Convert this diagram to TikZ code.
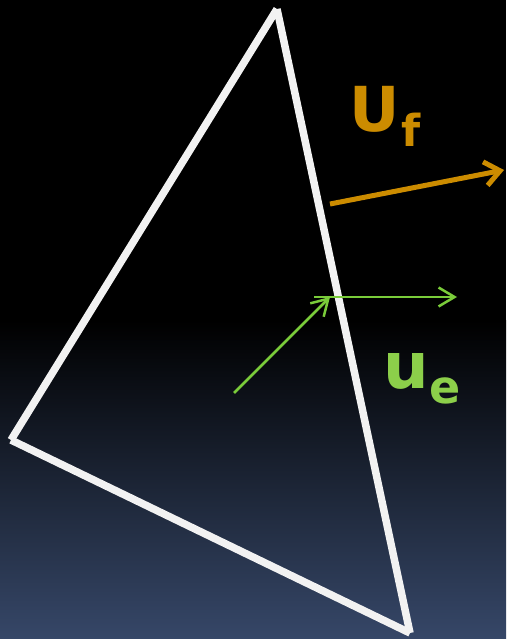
\documentclass[tikz,border=0pt]{standalone}
\usepackage{fontspec}
\newfontfamily\labelfont{DejaVu Sans}
\usepackage{xcolor}
\definecolor{edgewhite}{HTML}{F2F2F2}
\definecolor{fluxorange}{HTML}{CC8C00}
\definecolor{velgreen}{HTML}{7ACC3A}
\definecolor{labelgreen}{HTML}{8CCF4A}
\definecolor{bgblue}{HTML}{364768}
\usepackage{tikz}
\usetikzlibrary{arrows.meta, positioning, calc}

\begin{document}
\begin{tikzpicture}[
        x=1pt, y=-1pt,
        edge/.style={line width=7.5pt, draw=edgewhite},
        faceflux/.style={-{Straight Barb[length=15pt, width=24pt, line width=5pt]}, line width=5pt, draw=fluxorange},
        cellvel/.style={-{Straight Barb[length=16pt, width=19pt, line width=2.5pt]}, line width=2.5pt, draw=velgreen},
        biglabel/.style={font=\labelfont\bfseries, inner sep=0pt, anchor=base west}
    ]
        % Background
        \useasboundingbox (0,0) rectangle (506,639);
        \fill[black] (0,0) rectangle (506,320);
        \shade[top color=black, bottom color=bgblue] (0,320) rectangle (506,639);

        % Triangle corners
        \coordinate (top) at (277,9);
        \coordinate (left) at (11,440);
        \coordinate (bottom) at (410,633);

        % Triangle edges
        \draw[edge] (top) -- (left);
        \draw[edge] (left) -- (bottom);
        \draw[edge] (bottom) -- (top);

        % Face flux
        \coordinate (ufstart) at (330,204);
        \coordinate (ufend) at (504,170);
        \draw[faceflux] (ufstart) -- (ufend);
        \node[biglabel, text=fluxorange] (uflabel) at (349,132)
            {\fontsize{62}{62}\selectfont U\kern2pt\raisebox{-15pt}{\fontsize{44}{44}\selectfont f}};

        % Cell velocity
        \coordinate (uestart) at (234,393);
        \coordinate (uemid) at (330,297);
        \coordinate (uebase) at (314,297);
        \coordinate (ueend) at (457,297);
        \draw[cellvel] (uestart) -- (uemid);
        \draw[cellvel] (uebase) -- (ueend);
        \node[biglabel, text=labelgreen] (uelabel) at (383,388)
            {\fontsize{64}{64}\selectfont u\kern1pt\raisebox{-15pt}{\fontsize{46}{46}\selectfont e}};

    \end{tikzpicture}
\end{document}
